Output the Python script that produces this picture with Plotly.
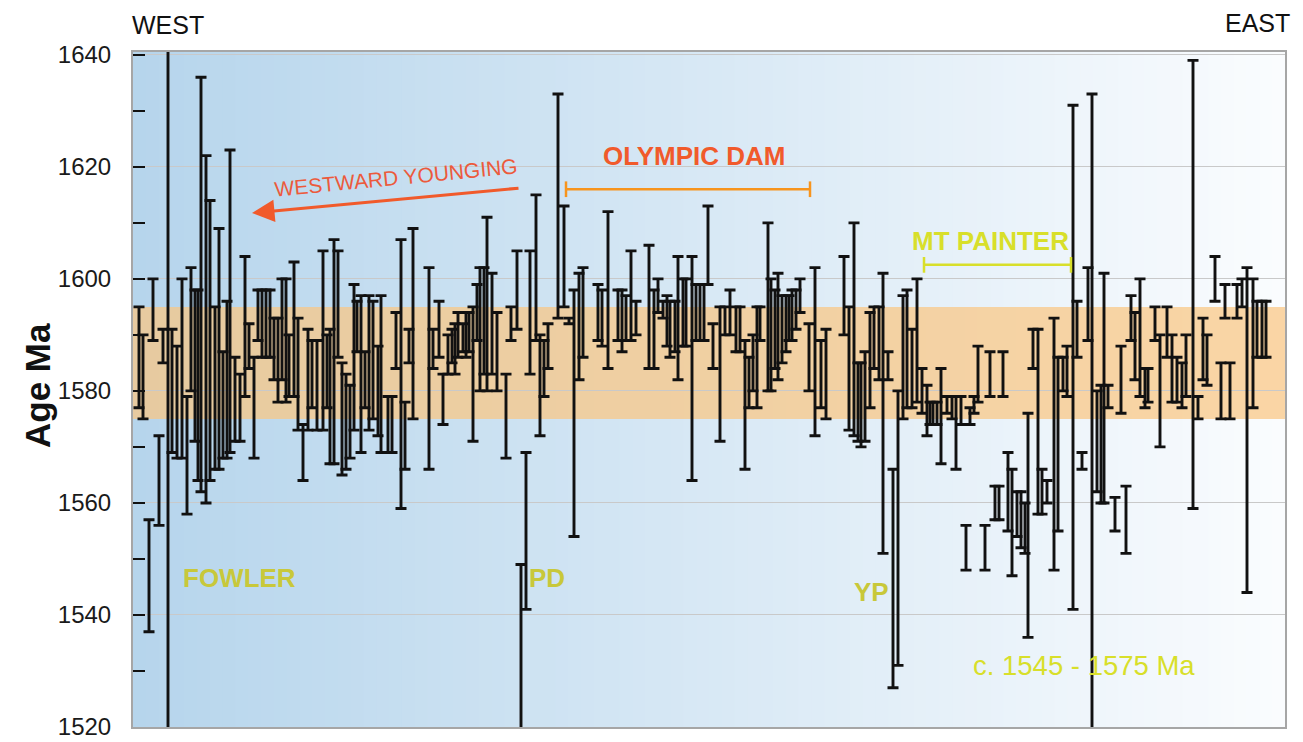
import plotly.graph_objects as go

# ---------------- data ----------------
# position of each dated sample along the west-east transect (arbitrary units)
transect_pos = [
    6, 10, 16, 20, 26, 30, 35, 39, 44, 49, 54, 58, 62, 65, 68, 73, 77, 82, 86, 90, 94, 97, 102, 107, 112, 116, 121, 125,
    129, 133, 137, 141, 145, 149, 153, 156, 161, 165, 170, 175, 179, 184, 190, 194, 197, 201, 205, 209, 213, 217, 221, 224,
    228, 232, 236, 240, 245, 248,
    255, 259, 263, 268, 272, 276, 280, 296, 300, 306, 310, 315, 319, 322, 325, 330, 333, 336, 340, 344, 347, 351, 354, 359,
    364, 373,
    378, 384, 388, 393, 397, 403, 407, 411, 415, 425, 431, 436, 441, 446, 450, 465, 469, 475, 485, 489, 493, 498,
    503, 516, 521, 525, 530, 534, 537, 542, 545, 550, 553, 559, 563, 567, 571, 575, 580, 587, 592, 597, 603, 607, 612, 616,
    620, 624,
    627, 635, 638, 642, 645, 649, 653, 656, 659, 663, 667, 676, 682, 688, 693, 711, 716, 721, 725, 728, 732, 737, 741, 746,
    750,
    755, 760, 765, 770, 774, 779, 784, 789, 794, 797, 800, 804, 808, 814, 819, 823, 828, 833, 837, 841, 845, 852, 857, 862,
    866, 870,
    875, 879, 884, 888, 892, 895, 900, 905, 909, 914, 921, 925, 930, 934, 940, 944, 949, 955, 959, 964, 968, 971, 975, 982,
    988, 993, 998,
    1002, 1007, 1012, 1015, 1022, 1027, 1034, 1039, 1044, 1049, 1053, 1060, 1065, 1070, 1074, 1082, 1088, 1092, 1097, 1104,
    1109, 1114, 1120, 1124, 1129, 1133,
]
age_lo = [
    1577, 1575, 1537, 1589, 1556, 1585, 1500, 1569, 1568, 1568, 1558, 1580, 1571, 1564, 1562, 1560, 1564, 1566, 1566, 1568,
    1568, 1569, 1571, 1571, 1579, 1584, 1568, 1589,
    1586, 1586, 1586, 1582, 1578, 1582, 1578, 1579, 1579, 1573, 1564, 1573, 1577, 1573, 1573, 1577, 1567, 1567, 1586, 1565,
    1566, 1568, 1573, 1587, 1569, 1577, 1573, 1575, 1572, 1569,
    1569, 1569, 1584, 1559, 1566, 1585, 1575, 1566, 1584, 1586, 1574, 1583, 1585, 1583, 1586, 1587, 1586, 1587, 1571, 1589,
    1580, 1583, 1580, 1583, 1580, 1568,
    1589, 1591, 1500, 1541, 1583, 1589, 1572, 1579, 1584, 1593, 1595, 1592, 1554, 1582, 1586, 1589, 1588, 1584, 1589, 1587,
    1589, 1589,
    1590, 1584, 1584, 1594, 1593, 1588, 1586, 1587, 1582, 1588, 1588, 1564, 1589, 1589, 1589, 1599, 1584, 1571, 1590, 1590,
    1587, 1587, 1566, 1577, 1580, 1577,
    1589, 1580, 1580, 1584, 1582, 1585, 1587, 1589, 1589, 1591, 1594, 1580, 1572, 1577, 1575, 1590, 1573, 1572, 1571, 1570,
    1571, 1577, 1584, 1582, 1551,
    1582, 1527, 1531, 1575, 1577, 1577, 1578, 1576, 1572, 1574, 1574, 1574, 1567, 1576, 1575, 1566, 1574, 1548, 1574, 1576,
    1578, 1548, 1579, 1557, 1557, 1579,
    1555, 1547, 1554, 1552, 1551, 1536, 1584, 1558, 1558, 1560, 1548, 1555, 1580, 1579, 1541, 1586, 1566, 1589, 1500, 1562,
    1560, 1560, 1577, 1555, 1576, 1551, 1589,
    1582, 1579, 1577, 1578, 1589, 1570, 1586, 1578, 1578, 1577, 1579, 1559, 1575, 1582, 1581, 1596, 1575, 1593, 1575, 1593,
    1595, 1544, 1577, 1586, 1586, 1586,
]
age_hi = [
    1595, 1590, 1557, 1600, 1572, 1591, 1660, 1591, 1588, 1600, 1579, 1602, 1598, 1598, 1636, 1622, 1614, 1595, 1609, 1587,
    1596, 1623, 1586, 1583, 1604, 1592, 1586, 1598,
    1598, 1598, 1598, 1593, 1593, 1600, 1600, 1590, 1603, 1593, 1574, 1591, 1589, 1589, 1605, 1590, 1591, 1607, 1605, 1585,
    1583, 1581, 1599, 1596, 1597, 1587, 1597, 1596, 1588, 1597,
    1579, 1579, 1594, 1607, 1578, 1591, 1609, 1602, 1591, 1596, 1583, 1590, 1591, 1592, 1594, 1592, 1594, 1594, 1595, 1599,
    1602, 1602, 1611, 1601, 1594, 1583,
    1595, 1605, 1549, 1569, 1605, 1615, 1590, 1589, 1592, 1633, 1613, 1593, 1598, 1601, 1602, 1599, 1598, 1612, 1598, 1598,
    1597, 1605,
    1596, 1606, 1598, 1600, 1596, 1597, 1596, 1596, 1604, 1600, 1600, 1604, 1599, 1599, 1599, 1613, 1592, 1595, 1595, 1598,
    1595, 1595, 1589, 1586, 1590, 1595,
    1595, 1610, 1600, 1598, 1601, 1597, 1597, 1597, 1598, 1598, 1600, 1592, 1602, 1589, 1591, 1604, 1595, 1610, 1585, 1585,
    1587, 1594, 1595, 1595, 1601,
    1587, 1566, 1580, 1597, 1598, 1591, 1600, 1584, 1581, 1578, 1578, 1578, 1584, 1579, 1579, 1579, 1579, 1556, 1577, 1579,
    1588, 1556, 1587, 1563, 1563, 1587,
    1569, 1566, 1562, 1562, 1560, 1576, 1591, 1591, 1566, 1564, 1593, 1586, 1586, 1588, 1631, 1596, 1569, 1602, 1633, 1580,
    1581, 1601, 1581, 1561, 1588, 1563, 1597,
    1594, 1600, 1584, 1584, 1595, 1590, 1595, 1590, 1586, 1585, 1590, 1639, 1579, 1593, 1590, 1604, 1585, 1599, 1585, 1599,
    1600, 1602, 1600, 1596, 1596, 1596,
]

y_ticks = [1520, 1540, 1560, 1580, 1600, 1620, 1640]
band_lo, band_hi = 1575, 1595          # highlighted age window
od_range = [433, 677]                  # Olympic Dam samples (transect units)
od_level = 1616
mp_range = [791, 938]                  # Mt Painter samples
mp_level = 1602.5

X_MAX = 1152
Y_RANGE = [1520, 1640.5]

# ---------------- figure ----------------
center = [(a + b) / 2 for a, b in zip(age_lo, age_hi)]
err_plus = [b - c for b, c in zip(age_hi, center)]
err_minus = [c - a for a, c in zip(age_lo, center)]

fig = go.Figure()
fig.add_trace(go.Scatter(
    x=transect_pos, y=center, mode="markers",
    marker=dict(size=1, color="rgba(0,0,0,0)"),
    error_y=dict(type="data", symmetric=False, array=err_plus, arrayminus=err_minus,
                 color="#111111", thickness=2.9, width=5.5),
    hoverinfo="skip", showlegend=False,
))

shapes = []
# west→east background gradient (blue to near white)
n_strips = 90
c0 = (182, 213, 236)
c1 = (250, 252, 254)
for i in range(n_strips):
    t = i / (n_strips - 1)
    col = tuple(round(c0[k] + (c1[k] - c0[k]) * t) for k in range(3))
    shapes.append(dict(type="rect", xref="paper", yref="paper",
                       x0=i / n_strips, x1=(i + 1) / n_strips + 0.002, y0=0, y1=1,
                       fillcolor="rgb(%d,%d,%d)" % col, line=dict(width=0), layer="below"))
# age band
shapes.append(dict(type="rect", xref="paper", yref="y", x0=0, x1=1, y0=band_lo, y1=band_hi,
                   fillcolor="rgba(249,198,130,0.72)", line=dict(width=0), layer="below"))
# brackets
for (xr, lvl, col) in [(od_range, od_level, "#f7941d"), (mp_range, mp_level, "#d8df2a")]:
    shapes.append(dict(type="line", xref="x", yref="y", x0=xr[0], x1=xr[1], y0=lvl, y1=lvl,
                       line=dict(color=col, width=2.5)))
    for xe in xr:
        shapes.append(dict(type="line", xref="x", yref="y", x0=xe, x1=xe, y0=lvl - 1.4, y1=lvl + 1.4,
                           line=dict(color=col, width=2.5)))

FONT = "Liberation Sans"
ann = []

# page offset: the browser adds 8 px body margin
OFF = 8
PL, PT, PW, PH = 133, 52, 1152, 675


def px(xp):
    return (xp - PL) / PW


def py(yp):
    return (PT + PH - yp) / PH


def label(text, x, y, size, color, angle=0):
    ann.append(dict(text=text, x=px(x), y=py(y), xref="paper", yref="paper", showarrow=False,
                    xanchor="center", yanchor="middle", textangle=angle,
                    font=dict(family=FONT, size=size, color=color)))


label("<b>Age Ma</b>", 37, 386, 35, "#111", angle=-90)
label("WEST", 168, 25, 25, "#111")
label("EAST", 1257, 23, 25, "#111")
label("WESTWARD YOUNGING", 396, 177, 21, "#ec5a3c", angle=-5.5)
# arrow
ann.append(dict(text="", x=px(252), y=py(213), xref="paper", yref="paper", showarrow=True,
                ax=268, ay=-25, axref="pixel", ayref="pixel",
                arrowhead=2, arrowsize=1.5, arrowwidth=3, arrowcolor="#f15a2b"))
label("<b>OLYMPIC DAM</b>", 694, 156, 26, "#f15a2b")
label("<b>MT PAINTER</b>", 990, 241, 26, "#d8df2a")
for t, xx, yy in [("FOWLER", 239, 578), ("PD", 547, 578), ("YP", 871, 592)]:
    label("<b>%s</b>" % t, xx, yy, 26, "#c8c83a")
label("c. 1545 - 1575 Ma", 1084, 665, 27.5, "#d8df2a")

fig.update_layout(
    width=1303 - OFF, height=742 - OFF,
    margin=dict(l=PL - OFF, r=1303 - PL - PW, t=PT - OFF, b=742 - PT - PH),
    paper_bgcolor="white", plot_bgcolor="white",
    shapes=shapes, annotations=ann,
    font=dict(family=FONT, color="#222"),
)
fig.update_xaxes(range=[0, X_MAX], showticklabels=False, ticks="", showgrid=False, zeroline=False,
                 showline=True, linecolor="#a6a6a6", linewidth=2, mirror=True)
fig.update_yaxes(range=Y_RANGE, tickvals=y_ticks, ticks="inside", ticklen=12, tickwidth=2, tickcolor="#111",
                 showgrid=True, gridcolor="#c9c9c9", gridwidth=1, zeroline=False,
                 minor=dict(dtick=10, tick0=1520, ticks="inside", ticklen=12, tickwidth=2, tickcolor="#111",
                            showgrid=False),
                 showline=True, linecolor="#a6a6a6", linewidth=2, mirror=True,
                 tickfont=dict(family=FONT, size=24, color="#1a1a1a"), ticklabelstandoff=15,
                 automargin=False)

fig.write_html("out.html")
